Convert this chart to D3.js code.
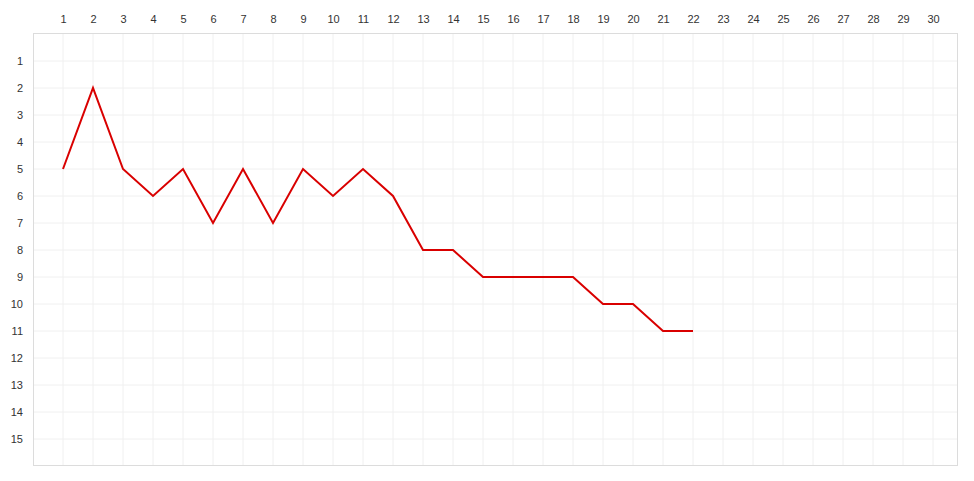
<!DOCTYPE html>
<html>
<head>
<meta charset="utf-8">
<script src="https://cdn.jsdelivr.net/npm/d3@7"></script>
<style>
html,body{margin:0;padding:0;background:#fff;}
svg{display:block;}
text{font-family:"Liberation Sans",Arial,sans-serif;font-size:11px;fill:#333;}
</style>
</head>
<body>
<svg id="chart" width="974" height="481"></svg>
<script>
const days = d3.range(1, 31);
const ranks = d3.range(1, 16);
const seriesDays = [1,2,3,4,5,6,7,8,9,10,11,12,13,14,15,16,17,18,19,20,21,22];
const seriesRanks = [5,2,5,6,5,7,5,7,5,6,5,6,8,8,9,9,9,9,10,10,11,11];

(function () {
const svg = d3.select("#chart");
const pL = 33, pR = 958, pT = 33, pB = 466;
const x = d3.scaleLinear().domain([0, (pR - pL) / 30]).range([pL, pR]);
const y = d3.scaleLinear().domain([0, 16]).range([34, 466]);

// grid
svg.append("g").selectAll("line").data(days).join("line")
  .attr("x1", d => x(d)).attr("x2", d => x(d))
  .attr("y1", pT).attr("y2", pB)
  .attr("stroke", "#f0f0f0").attr("stroke-width", 1);
svg.append("g").selectAll("line").data(ranks).join("line")
  .attr("x1", pL).attr("x2", pR)
  .attr("y1", d => y(d)).attr("y2", d => y(d))
  .attr("stroke", "#f0f0f0").attr("stroke-width", 1);

// border
svg.append("rect").attr("x", pL + 0.5).attr("y", pT + 0.5)
  .attr("width", pR - pL - 1).attr("height", pB - pT - 1)
  .attr("fill", "none").attr("stroke", "#dcdcdc");

// axes
const xAxis = svg.append("g").attr("transform", `translate(0,${pT})`)
  .call(d3.axisTop(x).tickValues(days).tickSize(0).tickPadding(10));
xAxis.select(".domain").remove();
const yAxis = svg.append("g").attr("transform", `translate(${pL},0)`)
  .call(d3.axisLeft(y).tickValues(ranks).tickSize(0).tickPadding(10));
yAxis.select(".domain").remove();
svg.selectAll(".tick text").attr("fill", "#333").style("font-size", "11px")
  .style("font-family", "'Liberation Sans', Arial, sans-serif");

// line
const pts = seriesDays.map((d, i) => [d, seriesRanks[i]]);
svg.append("path").datum(pts)
  .attr("fill", "none").attr("stroke", "#d90000").attr("stroke-width", 2)
  .attr("stroke-linejoin", "miter")
  .attr("d", d3.line().x(d => x(d[0])).y(d => y(d[1])));
})();
</script>
</body>
</html>
